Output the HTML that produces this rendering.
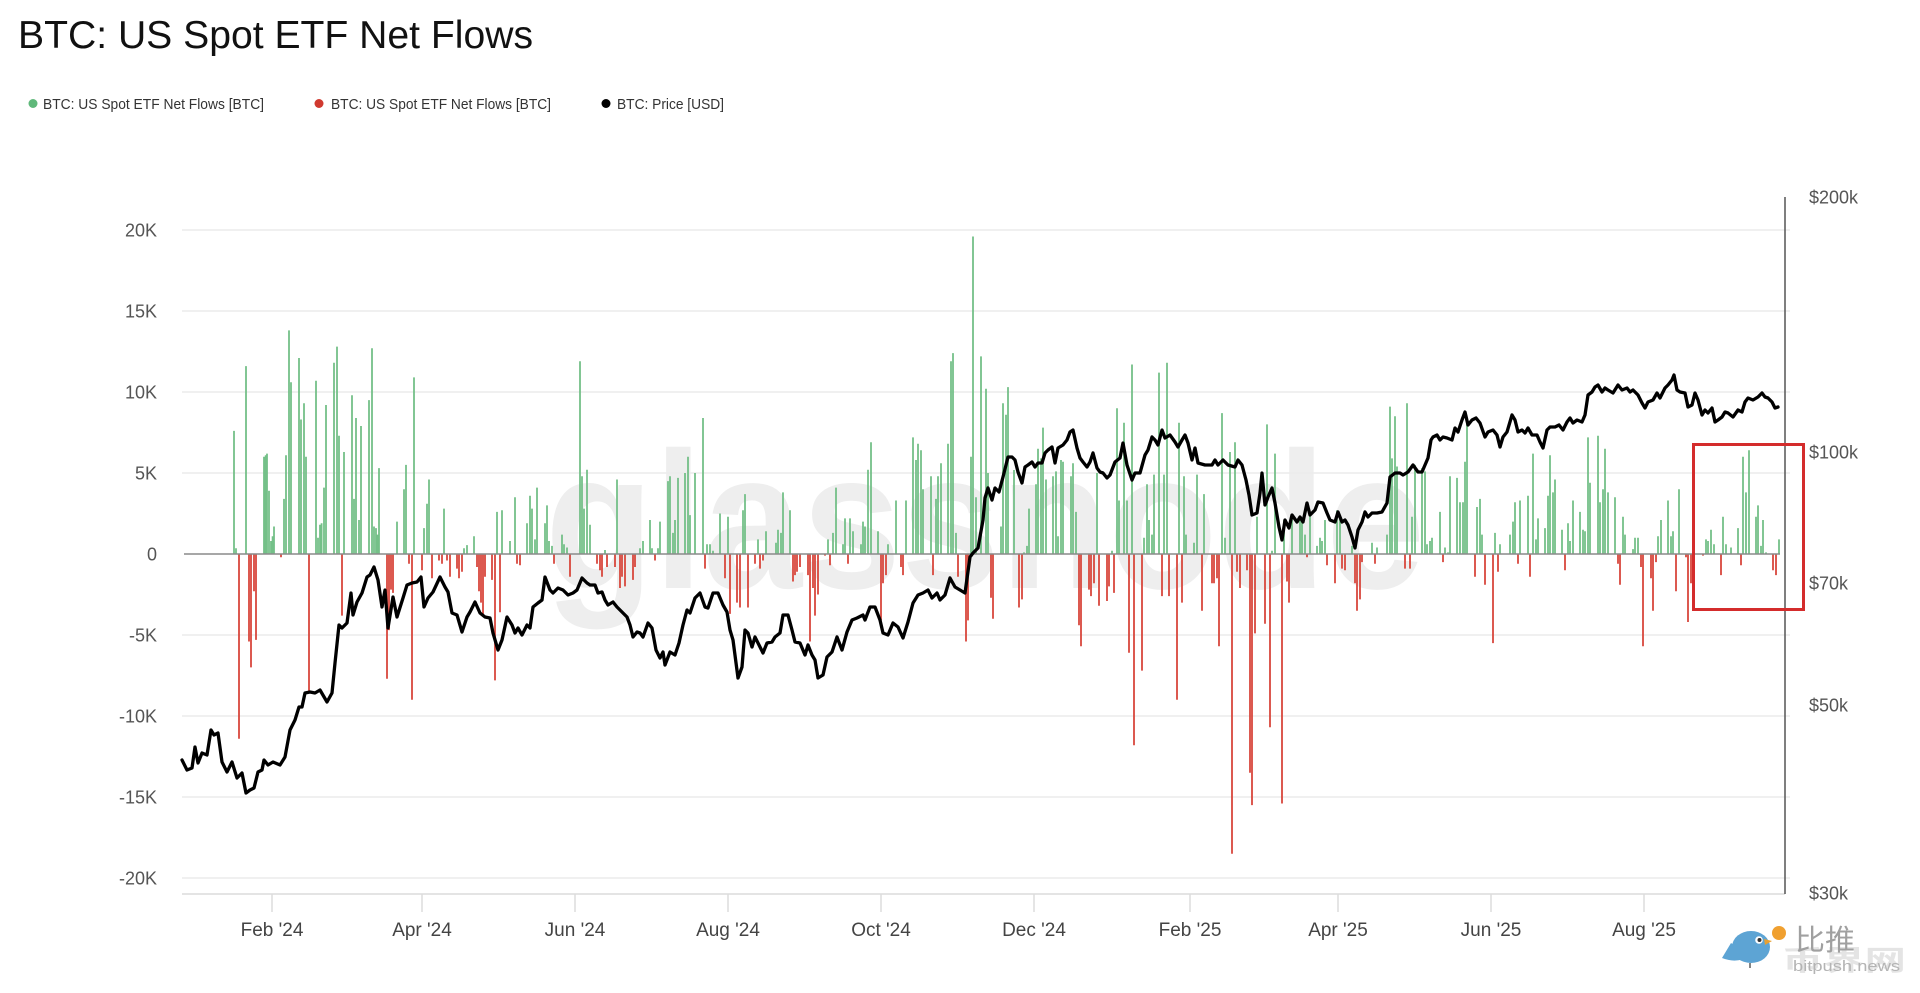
<!DOCTYPE html>
<html>
<head>
<meta charset="utf-8">
<style>
html,body{margin:0;padding:0;background:#fff;}
svg{display:block;}
text{font-family:"Liberation Sans","Noto Sans CJK SC",sans-serif;}
</style>
</head>
<body>
<svg width="1920" height="993" viewBox="0 0 1920 993" xmlns="http://www.w3.org/2000/svg">
<rect width="1920" height="993" fill="#fff"/>

<!-- Title -->
<text x="18" y="48" font-size="39" fill="#111" textLength="515" lengthAdjust="spacingAndGlyphs">BTC: US Spot ETF Net Flows</text>

<!-- Legend -->
<circle cx="33" cy="103.5" r="4.5" fill="#5fb87a"/>
<text x="43" y="109" font-size="15" fill="#333" textLength="221" lengthAdjust="spacingAndGlyphs">BTC: US Spot ETF Net Flows [BTC]</text>
<circle cx="319" cy="103.5" r="4.5" fill="#d0392f"/>
<text x="331" y="109" font-size="15" fill="#333" textLength="220" lengthAdjust="spacingAndGlyphs">BTC: US Spot ETF Net Flows [BTC]</text>
<circle cx="606" cy="103.5" r="4.5" fill="#000"/>
<text x="617" y="109" font-size="15" fill="#333" textLength="107" lengthAdjust="spacingAndGlyphs">BTC: Price [USD]</text>

<!-- Watermark -->
<text x="545" y="588" font-size="195" font-weight="bold" fill="#eeeeee" textLength="880" lengthAdjust="spacingAndGlyphs">glassnode</text>

<!-- Gridlines -->
<g stroke="#ececec" stroke-width="1.5">
<line x1="182" y1="230" x2="1790" y2="230"/>
<line x1="182" y1="311" x2="1790" y2="311"/>
<line x1="182" y1="392" x2="1790" y2="392"/>
<line x1="182" y1="473" x2="1790" y2="473"/>
<line x1="182" y1="635" x2="1790" y2="635"/>
<line x1="182" y1="716" x2="1790" y2="716"/>
<line x1="182" y1="797" x2="1790" y2="797"/>
<line x1="182" y1="878" x2="1790" y2="878"/>
</g>
<!-- bottom axis -->
<line x1="182" y1="894" x2="1785" y2="894" stroke="#dcdcdc" stroke-width="1.5"/>
<g stroke="#dcdcdc" stroke-width="1.5">
<line x1="272" y1="894" x2="272" y2="912"/>
<line x1="422" y1="894" x2="422" y2="912"/>
<line x1="575" y1="894" x2="575" y2="912"/>
<line x1="728" y1="894" x2="728" y2="912"/>
<line x1="881" y1="894" x2="881" y2="912"/>
<line x1="1034" y1="894" x2="1034" y2="912"/>
<line x1="1190" y1="894" x2="1190" y2="912"/>
<line x1="1338" y1="894" x2="1338" y2="912"/>
<line x1="1491" y1="894" x2="1491" y2="912"/>
<line x1="1644" y1="894" x2="1644" y2="912"/>
</g>

<!-- Left axis labels -->
<g font-size="18" fill="#555" text-anchor="end">
<text x="157" y="236.5">20K</text>
<text x="157" y="317.5">15K</text>
<text x="157" y="398.5">10K</text>
<text x="157" y="479.5">5K</text>
<text x="157" y="560.5">0</text>
<text x="157" y="641.5">-5K</text>
<text x="157" y="722.5">-10K</text>
<text x="157" y="803.5">-15K</text>
<text x="157" y="884.5">-20K</text>
</g>

<!-- Right axis -->
<line x1="1785" y1="197" x2="1785" y2="894" stroke="#555" stroke-width="1.5"/>
<g font-size="18" fill="#555">
<text x="1809" y="203.5">$200k</text>
<text x="1809" y="458.5">$100k</text>
<text x="1809" y="589.5">$70k</text>
<text x="1809" y="711.5">$50k</text>
<text x="1809" y="899.5">$30k</text>
</g>

<!-- X labels -->
<g font-size="19" fill="#444" text-anchor="middle">
<text x="272" y="936">Feb '24</text>
<text x="422" y="936">Apr '24</text>
<text x="575" y="936">Jun '24</text>
<text x="728" y="936">Aug '24</text>
<text x="881" y="936">Oct '24</text>
<text x="1034" y="936">Dec '24</text>
<text x="1190" y="936">Feb '25</text>
<text x="1338" y="936">Apr '25</text>
<text x="1491" y="936">Jun '25</text>
<text x="1644" y="936">Aug '25</text>
</g>

<!-- Green bars -->
<path fill="none" stroke="#74c088" stroke-width="1.8" d="
M234 554V430.9 M236 554V548.3 M246 554V366.1 M264 554V456.8 M265.7 554V455.2 M267 554V453.6 M269 554V490.8 M271 554V541 M272.6 554V536.2 M274 554V526.5
M284 554V498.9 M286 554V455.2 M289 554V330.4 M291 554V382.3 M299 554V358 M301 554V419.5 M304 554V403.3 M306 554V456.8
M316 554V380.7 M318 554V537.8 M320 554V524.8 M321.6 554V523.2 M324 554V487.6 M326 554V405 M334 554V362.8 M337 554V346.6 M339 554V435.7
M344 554V452 M352 554V395.2 M354 554V498.9 M356 554V418 M359 554V520 M361 554V426 M369 554V400.1 M372 554V348.3 M374 554V526.5 M376 554V528.1 M377.6 554V534.6 M379 554V468.1
M397 554V521.6 M404 554V489.2 M406 554V464.9 M414 554V377.4 M424 554V528.1 M427 554V503.8 M429 554V479.5 M444 554V508.6
M464 554V548.3 M467 554V545.1 M474 554V536.2 M497 554V511.9 M502 554V510.3 M510 554V541 M515 554V497.3
M527 554V523.2 M530 554V495.7 M532 554V508.6 M535 554V539.4 M537 554V487.6 M545 554V523.2 M547 554V505.4 M549 554V541 M552 554V545.9
M562 554V534.6 M564 554V544.3 M567 554V547.5 M580 554V361.2 M582 554V476.2 M584 554V508.6 M587 554V469.8 M590 554V524.8
M605 554V550 M617 554V479.5 M640 554V548.3 M643 554V541 M650 554V520 M652 554V548.3 M658 554V548.3 M660 554V521.6
M668 554V481.1 M670 554V476.2 M673 554V532.9 M675 554V520 M678 554V477.9 M685 554V473 M688 554V456.8 M690 554V515.1 M695 554V473
M703 554V418 M707 554V544.3 M710 554V544.3 M713 554V550.8 M720 554V513.5 M728 554V516.7 M743 554V510.3 M745 554V494.1
M758 554V539.4 M766 554V531.3 M776 554V542.7 M778 554V529.7 M781 554V532.9 M783 554V492.4 M790 554V510.3
M828 554V539.4 M833 554V532.9 M836 554V487.6 M843 554V544.3 M845 554V518.4 M850 554V518.4 M853 554V531.3 M861 554V544.3 M863 554V521.6 M865 554V526.5 M868 554V469.8 M871 554V442.2
M878 554V531.3 M888 554V544.3 M896 554V500.5 M906 554V500.5 M913 554V437.4 M916 554V460 M918 554V443.8 M921 554V450.3 M923 554V489.2
M931 554V476.2 M936 554V498.9 M938 554V476.2 M941 554V463.3 M948 554V443.8 M951 554V361.2 M953 554V353.1 M956 554V532.9
M971 554V456.8 M973 554V236.5 M976 554V497.3 M981 554V356.4 M986 554V388.8 M988 554V473 M1001 554V526.5 M1003 554V403.3 M1006 554V414.7 M1008 554V387.1
M1014 554V470 M1024 554V552.4 M1027 554V545.9 M1029 554V508.6 M1036 554V484.3 M1038 554V448.7 M1041 554V458.4 M1043 554V427.6 M1046 554V479.5
M1053 554V476.2 M1056 554V471.4 M1058 554V536.2 M1061 554V460 M1063 554V461.7 M1071 554V476.2 M1073 554V463.3 M1076 554V511.9 M1097 554V473
M1112 554V550.8 M1117 554V408.2 M1119 554V500.5 M1124 554V422.8 M1127 554V500.5 M1132 554V364.5 M1144 554V537.8 M1147 554V484.3 M1149 554V520 M1152 554V534.6 M1154 554V474.6
M1159 554V372.6 M1164 554V474.6 M1167 554V362.8 M1179 554V422.8 M1184 554V476.2 M1186 554V534.6 M1194 554V542.7 M1197 554V474.6 M1204 554V494.1
M1222 554V413.1 M1225 554V537.8 M1230 554V452 M1235 554V442.2 M1257 554V516.7 M1267 554V424.4 M1272 554V550.8 M1275 554V453.6 M1284 554V520
M1292 554V518.4 M1300 554V518.4 M1302 554V521.6 M1305 554V534.6 M1310 554V515.1 M1317 554V545.9 M1320 554V537.8 M1322 554V541 M1325 554V520
M1337 554V510.3 M1340 554V515.1 M1352 554V545.9 M1372 554V542.7 M1377 554V547.5 M1387 554V534.6 M1390 554V406.6 M1392 554V458.4 M1395 554V416.3 M1397 554V466.5
M1407 554V403.3 M1412 554V516.7 M1415 554V464.9 M1422 554V468.1 M1425 554V471.4 M1427 554V544.3 M1430 554V541 M1432 554V537.8 M1440 554V511.9 M1445 554V547.5 M1448 554V552.4 M1450 554V476.2
M1457 554V477.9 M1460 554V502.2 M1463 554V502.2 M1465 554V461.7 M1467 554V418 M1477 554V507 M1480 554V498.9 M1482 554V534.6 M1495 554V532.9 M1500 554V544.3
M1510 554V534.6 M1513 554V521.6 M1515 554V502.2 M1520 554V500.5 M1528 554V495.7 M1533 554V453.6 M1536 554V539.4 M1538 554V518.4 M1545 554V528.1 M1548 554V495.7 M1550 554V455.2 M1553 554V492.4 M1555 554V479.5
M1562 554V529.7 M1568 554V523.2 M1570 554V541 M1573 554V500.5 M1580 554V511.9 M1583 554V529.7 M1585 554V531.3 M1588 554V437.4 M1590 554V482.7
M1598 554V435.7 M1600 554V502.2 M1603 554V489.2 M1605 554V448.7 M1608 554V492.4 M1615 554V497.3 M1623 554V516.7 M1625 554V534.6
M1633 554V549.1 M1635 554V537.8 M1638 554V537.8 M1658 554V536.2 M1661 554V520 M1668 554V500.5 M1671 554V536.2 M1673 554V531.3 M1679 554V489.2
M1706 554V539.4 M1708 554V541 M1711 554V529.7 M1714 554V544.3 M1723 554V516.7 M1726 554V544.3 M1731 554V547.5 M1738 554V528.1
M1743 554V456.8 M1746 554V492.4 M1749 554V450.3 M1756 554V516.7 M1758 554V505.4 M1761 554V545.9 M1763 554V520 M1766 554V552.4 M1779 554V539.4
"/>

<!-- Red bars -->
<path fill="none" stroke="#d8473d" stroke-width="1.8" d="
M239 554V738.7 M249 554V641.5 M251 554V667.4 M254 554V591.3 M256 554V639.9 M281 554V557.2 M309 554V693.3 M342 554V615.6
M387 554V678.7 M389 554V630.1 M391 554V589.6 M393 554V592.9 M409 554V563.7 M412 554V699.8 M422 554V570.2 M432 554V578.3
M439 554V560.5 M442 554V563.7 M447 554V560.5 M450 554V576.7 M457 554V568.6 M459 554V578.3 M462 554V571.8
M477 554V567 M479 554V591.3 M481 554V602.6 M483 554V615.6 M485 554V576.7 M492 554V579.9 M495 554V680.4 M500 554V612.3
M517 554V563.7 M520 554V565.3 M554 554V563.7 M570 554V576.7 M597 554V563.7 M600 554V570.2 M602 554V576.7 M607 554V567
M615 554V567 M620 554V588 M622 554V576.7 M625 554V586.4 M633 554V579.9 M635 554V567 M655 554V560.5 M705 554V568.6
M725 554V578.3 M730 554V613.9 M737 554V602.6 M740 554V607.5 M748 554V607.5 M755 554V563.7 M760 554V568.6 M763 554V560.5
M793 554V581.5 M795 554V575.1 M797 554V571.8 M800 554V567 M808 554V575.1 M810 554V641.5 M813 554V588 M815 554V615.6 M818 554V594.5
M825 554V555.6 M830 554V565.3 M848 554V563.7 M881 554V620.4 M883 554V583.2 M886 554V575.1 M901 554V567 M903 554V575.1 M933 554V575.1
M958 554V576.7 M966 554V641.5 M968 554V620.4 M991 554V597.7 M993 554V618.8 M1019 554V607.5 M1022 554V599.4
M1079 554V625.3 M1081 554V646.3 M1089 554V589.6 M1091 554V596.1 M1094 554V583.2 M1099 554V605.8 M1107 554V601 M1109 554V586.4 M1114 554V592.9
M1129 554V652.8 M1134 554V745.2 M1142 554V670.6 M1162 554V596.1 M1169 554V596.1 M1177 554V699.8 M1182 554V602.6 M1202 554V610.7
M1212 554V583.2 M1214 554V583.2 M1217 554V578.3 M1219 554V646.3 M1232 554V853.7 M1237 554V571.8 M1240 554V588 M1247 554V570.2
M1250 554V772.7 M1252 554V805.1 M1255 554V633.4 M1265 554V623.7 M1270 554V727.3 M1282 554V803.5 M1287 554V581.5 M1289 554V602.6
M1307 554V557.2 M1327 554V565.3 M1335 554V583.2 M1342 554V568.6 M1345 554V570.2 M1355 554V583.2 M1357 554V610.7 M1360 554V599.4 M1362 554V562.1
M1375 554V563.7 M1405 554V568.6 M1410 554V568.6 M1443 554V562.1 M1475 554V576.7 M1485 554V584.8 M1493 554V643.1 M1498 554V571.8
M1518 554V563.7 M1530 554V576.7 M1565 554V570.2 M1618 554V563.7 M1620 554V584.8 M1641 554V567 M1643 554V646.3 M1651 554V578.3 M1653 554V610.7 M1656 554V562.1
M1676 554V591.3 M1686 554V557.2 M1688 554V622 M1691 554V583.2 M1703 554V555.6 M1721 554V575.1 M1741 554V565.3 M1773 554V570.2 M1776 554V575.1
"/>

<!-- Zero line -->
<line x1="184" y1="554" x2="1780" y2="554" stroke="#8a8a8a" stroke-width="1.5"/>

<!-- Price line -->
<polyline fill="none" stroke="#000" stroke-width="3.3" stroke-linejoin="round" stroke-linecap="round" points="
182,760 187,770 192,768 195,747 198,763 202,753 207,755 211,730 214,735 218,733 222,762 227,772 232,762 237,778 242,773 246,793 250,790 254,788 258,772 262,770 264,760 268,765 273,762 280,765 285,757 290,730 295,720 299,707 302,707 305,693 310,692 315,693 320,690 327,702 332,693 335,663 339,625 342,628 347,623 351,593 353,615 357,602 362,593 367,577 370,575 374,567 378,580 382,607 385,590 388,628 393,597 397,617 403,598 407,585 412,583 417,582 421,577 424,607 428,598 433,592 440,577 445,587 448,592 452,613 457,615 462,632 467,617 470,612 475,602 480,613 485,617 490,618 493,633 498,650 502,640 507,617 512,625 515,633 518,628 522,635 527,625 530,628 533,607 538,603 542,600 545,577 550,590 553,593 558,588 563,590 568,595 573,593 577,590 582,578 587,583
590,585 595,585 598,593 602,592 605,600 608,605 613,602 617,607 622,612 627,617 630,625 633,637 637,632 640,633 643,637 648,623 652,628 656,650 660,658 663,652 665,665 670,652 675,655 679,643 683,625 687,610 690,613 695,598 700,593 705,607 708,608 713,593 718,593 723,605 727,612 730,630 733,640 738,678 742,667 745,630 748,633 752,647 755,637 758,643 763,653 767,643 772,642 775,637 780,633 783,615 788,615 792,630 795,642 800,643 805,655 808,645 812,655 815,660 818,678 823,675 827,657 832,652 837,637 842,650 847,632 852,620 857,618 863,615 865,620 870,607 875,607 880,620 883,633 888,635 893,623 898,627 903,638 908,622 913,603 918,595 923,593 928,590 932,598 937,593 940,600 945,595 950,578 955,587 960,590 965,593 970,557 973,553 978,548 983,520 985,498 988,488 992,500 995,488 999,492 1003,477 1008,457
1012,457 1015,460 1018,472 1022,483 1025,467 1028,465 1032,462 1035,467 1038,463 1042,463 1045,453 1048,450 1052,447 1055,463 1058,448 1063,445 1067,440 1070,432 1073,430 1077,448 1080,458 1083,462 1087,467 1090,462 1093,453 1097,468 1100,472 1103,473 1107,478 1110,475 1115,462 1120,458 1123,443 1127,465 1132,480 1135,473 1140,473 1145,455 1148,450 1152,437 1155,440 1158,445 1162,430 1165,438 1170,435 1175,442 1178,447 1182,440 1185,435 1188,443 1192,460 1195,448 1198,463 1205,465 1212,465 1215,460 1218,465 1223,460 1228,465 1235,467 1238,460 1242,465 1246,480 1249,495 1252,515 1257,513 1260,493 1262,473 1265,505 1268,497 1272,488 1275,503 1279,527 1282,540 1285,520 1289,528 1292,515 1297,522 1300,517 1303,522 1307,503 1310,515 1315,510 1318,502 1323,503 1327,513 1330,520 1335,522 1338,512 1342,522 1345,520 1348,525 1352,537 1355,548 1358,530 1362,522 1365,512 1368,517 1372,513 1377,513 1382,512 1387,503 1390,477 1395,473
1400,473 1403,475 1408,472 1413,465 1418,472 1422,472 1425,465 1428,458 1431,440 1433,437 1437,435 1440,440 1443,437 1447,438 1452,440 1455,428 1458,432 1462,420 1465,412 1468,425 1472,420 1476,418 1480,423 1485,437 1488,432 1493,430 1497,435 1500,447 1503,437 1507,432 1512,415 1515,420 1518,432 1522,430 1525,433 1528,428 1532,435 1537,435 1540,442 1543,448 1547,430 1550,427 1555,427 1559,425 1563,430 1567,422 1570,418 1573,423 1577,420 1582,422 1585,415 1588,395 1592,392 1595,387 1598,385 1602,392 1605,388 1608,390 1613,393 1618,385 1622,390 1627,388 1630,392 1633,390 1638,395 1642,403 1645,408 1648,402 1653,400 1657,393 1660,398 1665,388 1668,385 1672,380 1674,375 1677,390 1680,392 1685,393 1688,407 1692,405 1695,393 1698,400 1702,415 1705,410 1708,413 1712,408 1715,422 1718,420 1722,417 1725,412 1728,413 1733,417 1738,410 1742,412 1745,402 1748,398 1753,400 1758,397 1762,393 1765,397 1768,398 1772,402 1775,408 1778,407
"/>

<!-- Red highlight box -->
<rect x="1693.5" y="444.5" width="110" height="165" fill="none" stroke="#d42c2c" stroke-width="3"/>

<!-- Bottom-right logo watermark -->
<g>
  <text x="1782" y="970" font-size="28" font-weight="bold" fill="#e4e4e4" textLength="124" lengthAdjust="spacingAndGlyphs">币界网</text>
  <path d="M1722,958 Q1737,964 1750,956 L1731,943 Z" fill="#5da4d4"/>
  <ellipse cx="1751" cy="947" rx="19" ry="16" fill="#5da4d4"/>
  <path d="M1764,939 L1772,941 L1765,945 Z" fill="#e8a030"/>
  <circle cx="1759" cy="940" r="3.8" fill="#fff"/>
  <circle cx="1759.5" cy="940" r="2" fill="#333"/>
  <line x1="1750" y1="963" x2="1750" y2="968" stroke="#333" stroke-width="1.2"/>
  <circle cx="1779" cy="933" r="7" fill="#f0a030"/>
  <text x="1795" y="950" font-size="29" fill="#a0a0a0" textLength="60" lengthAdjust="spacingAndGlyphs">比推</text>
  <text x="1793" y="971" font-size="15" fill="#b4b4b4" textLength="107" lengthAdjust="spacingAndGlyphs">bitpush.news</text>
</g>
</svg>
</body>
</html>
